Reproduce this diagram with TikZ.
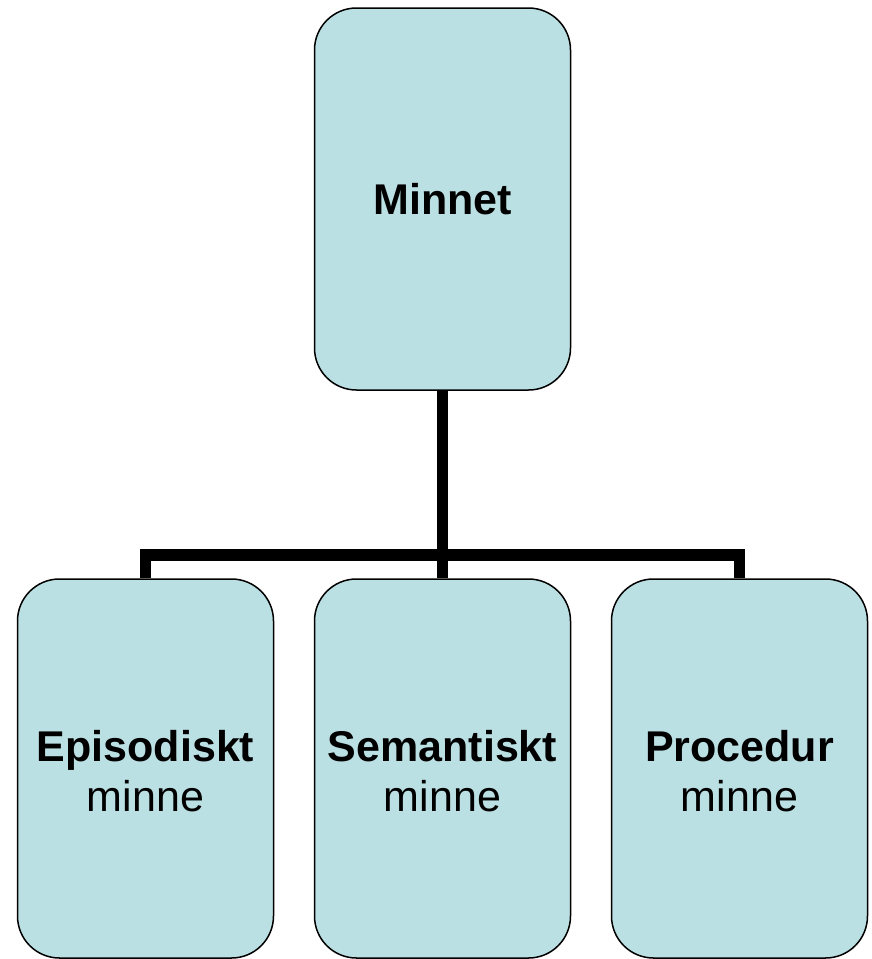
\documentclass[tikz,border=0pt]{standalone}
\usepackage{fontspec}
\setmainfont{Liberation Sans}
\definecolor{boxfill}{HTML}{BBE0E3}
\newcommand{\twoline}[2]{\rule{0pt}{37pt}\textbf{#1}\\#2}
\begin{document}
\begin{tikzpicture}[x=1pt,y=-1pt,
  box/.style={draw=black, line width=1.5pt, fill=boxfill, rounded corners=42pt,
    minimum width=256pt, inner sep=0pt, align=center,
    font=\fontsize{43}{50}\selectfont},
  conn/.style={line width=11.5pt, line cap=butt, line join=miter}]
\useasboundingbox (0,0) rectangle (872,959);
\node[box, minimum height=382pt] (top) at (442.5,199) {\textbf{Minnet}};
\node[box, minimum height=379pt] (e) at (145.5,768.5) {\twoline{Episodiskt}{minne}};
\node[box, minimum height=379pt] (s) at (442.5,768.5) {\twoline{Semantiskt}{minne}};
\node[box, minimum height=379pt] (p) at (739.5,768.5) {\twoline{Procedur}{minne}};
\coordinate (bar) at (442.5,555);
\draw[conn] (top.south) -- (s.north);
\draw[conn] (e.north) |- (bar) -| (p.north);
\end{tikzpicture}
\end{document}
